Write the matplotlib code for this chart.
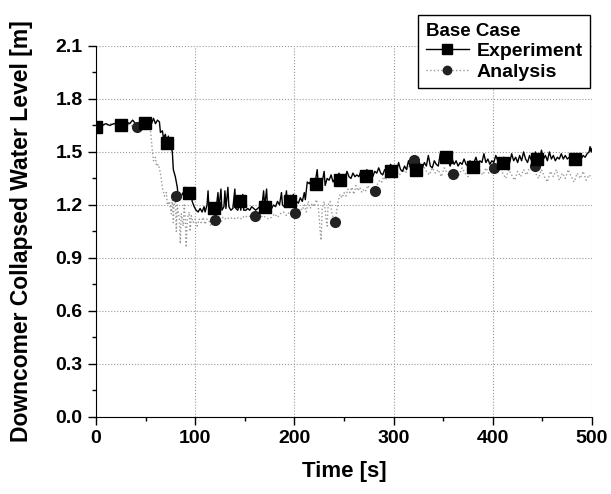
import matplotlib
matplotlib.use("Agg")
import matplotlib.pyplot as plt
from matplotlib.lines import Line2D
from matplotlib.ticker import MultipleLocator

plt.rcParams['font.family'] = ['Liberation Sans', 'DejaVu Sans']
plt.rcParams['font.weight'] = 'bold'

# Experiment (black line)
exp_t = [0, 3, 6, 10, 14, 18, 22, 25, 28, 31, 34, 37, 40, 42, 44, 46, 48, 50, 52, 54,
         56, 58, 60, 62, 64, 65, 67, 68, 70, 71, 72, 73, 74, 75, 77, 78, 79, 80, 81, 82,
         83, 84, 86, 88, 89, 90, 91, 93, 94, 96, 97, 99, 101, 103, 105, 107, 109, 110, 112, 113,
         114, 116, 118, 119, 121, 123, 124, 126, 127, 129, 130, 131, 133, 134, 136, 138, 140, 141, 143, 145,
         146, 148, 149, 151, 153, 155, 157, 159, 161, 163, 165, 167, 169, 170, 172, 173, 175, 177, 179, 181,
         183, 185, 187, 188, 190, 192, 193, 195, 197, 199, 200, 202, 204, 206, 208, 210, 211, 213, 215, 217,
         219, 221, 223, 224, 226, 228, 230, 231, 233, 235, 237, 239, 241, 243, 245, 247, 249, 251, 253, 255,
         257, 259, 261, 263, 265, 267, 269, 271, 273, 275, 277, 279, 281, 283, 285, 287, 289, 291, 293, 295,
         297, 299, 301, 303, 305, 307, 309, 311, 313, 315, 317, 319, 321, 323, 325, 327, 329, 331, 333, 335,
         337, 339, 341, 343, 345, 347, 349, 351, 353, 355, 357, 359, 361, 363, 365, 367, 369, 371, 373, 375,
         377, 379, 381, 383, 385, 387, 389, 391, 393, 395, 397, 399, 401, 403, 405, 407, 409, 411, 413, 415,
         417, 419, 421, 423, 425, 427, 429, 431, 433, 435, 437, 439, 441, 443, 445, 447, 449, 451, 453, 455,
         457, 459, 461, 463, 465, 467, 469, 471, 473, 475, 477, 479, 481, 483, 485, 487, 489, 491, 493, 495,
         497, 498, 499, 500]
exp_v = [1.64, 1.65, 1.65, 1.66, 1.65, 1.66, 1.66, 1.66, 1.66, 1.67, 1.66, 1.68, 1.66, 1.65, 1.67, 1.68, 1.665, 1.67, 1.66, 1.68,
         1.66, 1.69, 1.66, 1.68, 1.67, 1.61, 1.62, 1.58, 1.60, 1.56, 1.55, 1.59, 1.55, 1.54, 1.50, 1.40, 1.38, 1.36, 1.33, 1.30,
         1.24, 1.26, 1.25, 1.27, 1.26, 1.30, 1.25, 1.28, 1.27, 1.29, 1.22, 1.19, 1.17, 1.16, 1.18, 1.16, 1.19, 1.16, 1.20, 1.28,
         1.17, 1.18, 1.17, 1.18, 1.17, 1.27, 1.18, 1.29, 1.17, 1.19, 1.28, 1.18, 1.30, 1.19, 1.17, 1.18, 1.29, 1.18, 1.17, 1.22,
         1.17, 1.26, 1.17, 1.17, 1.18, 1.17, 1.19, 1.18, 1.17, 1.18, 1.19, 1.18, 1.28, 1.19, 1.29, 1.18, 1.21, 1.18, 1.20, 1.19,
         1.22, 1.20, 1.27, 1.20, 1.19, 1.28, 1.20, 1.22, 1.21, 1.26, 1.20, 1.22, 1.21, 1.24, 1.22, 1.27, 1.23, 1.33, 1.32, 1.34,
         1.31, 1.33, 1.40, 1.32, 1.34, 1.33, 1.39, 1.31, 1.35, 1.34, 1.37, 1.33, 1.35, 1.34, 1.38, 1.34, 1.36, 1.35, 1.39, 1.36,
         1.35, 1.38, 1.36, 1.37, 1.36, 1.39, 1.37, 1.36, 1.40, 1.37, 1.38, 1.36, 1.39, 1.38, 1.41, 1.38, 1.37, 1.40, 1.38, 1.39,
         1.43, 1.38, 1.40, 1.39, 1.44, 1.40, 1.39, 1.42, 1.40, 1.45, 1.41, 1.40, 1.43, 1.41, 1.46, 1.42, 1.41, 1.44, 1.42, 1.48,
         1.42, 1.41, 1.45, 1.43, 1.42, 1.49, 1.44, 1.46, 1.47, 1.45, 1.42, 1.46, 1.43, 1.45, 1.42, 1.44, 1.43, 1.46, 1.43, 1.42,
         1.45, 1.42, 1.44, 1.47, 1.43, 1.45, 1.44, 1.49, 1.44, 1.46, 1.43, 1.45, 1.44, 1.48, 1.45, 1.43, 1.44, 1.47, 1.44, 1.46,
         1.44, 1.49, 1.45, 1.47, 1.44, 1.48, 1.45, 1.50, 1.46, 1.44, 1.48, 1.45, 1.47, 1.50, 1.46, 1.45, 1.51, 1.46, 1.48, 1.45,
         1.50, 1.46, 1.48, 1.45, 1.47, 1.46, 1.49, 1.46, 1.48, 1.46, 1.47, 1.46, 1.45, 1.46, 1.45, 1.47, 1.46, 1.48, 1.47, 1.49,
         1.50, 1.53, 1.50, 1.52]

# Analysis (gray dotted line)
ana_t = [0, 5, 10, 15, 20, 25, 30, 35, 40, 45, 50, 53, 55, 57, 58, 60, 61, 63, 65, 67,
         69, 71, 72, 74, 76, 77, 78, 79, 80, 81, 82, 84, 85, 86, 88, 89, 90, 91, 92, 94,
         95, 96, 98, 100, 102, 104, 106, 108, 110, 112, 114, 116, 118, 120, 122, 124, 126, 128, 130, 132,
         135, 138, 141, 144, 147, 150, 153, 156, 159, 162, 165, 168, 171, 174, 177, 180, 183, 186, 189, 192,
         195, 198, 200, 202, 204, 206, 208, 210, 212, 214, 216, 218, 220, 222, 224, 226, 227, 228, 230, 232,
         233, 234, 236, 238, 240, 241, 242, 244, 246, 248, 250, 252, 254, 256, 258, 260, 262, 264, 266, 268,
         270, 272, 274, 276, 278, 280, 282, 284, 286, 288, 290, 292, 294, 296, 298, 300, 303, 306, 309, 312,
         315, 318, 321, 324, 327, 330, 333, 336, 339, 342, 345, 348, 351, 354, 357, 360, 363, 366, 369, 372,
         375, 378, 381, 384, 387, 390, 393, 396, 399, 401, 404, 407, 410, 413, 416, 419, 422, 425, 428, 431,
         434, 437, 440, 443, 446, 449, 452, 455, 458, 461, 464, 467, 470, 473, 476, 479, 482, 485, 488, 491,
         494, 497, 500]
ana_v = [1.64, 1.65, 1.65, 1.66, 1.66, 1.65, 1.66, 1.65, 1.64, 1.65, 1.66, 1.66, 1.62, 1.50, 1.45, 1.47, 1.42, 1.43, 1.38, 1.30,
         1.25, 1.27, 1.20, 1.22, 1.15, 1.24, 1.10, 1.22, 1.25, 1.05, 1.20, 1.12, 0.98, 1.15, 1.08, 1.20, 1.13, 0.96, 1.12, 1.16,
         1.05, 1.14, 1.10, 1.12, 1.08, 1.12, 1.10, 1.13, 1.09, 1.12, 1.11, 1.08, 1.11, 1.115, 1.10, 1.12, 1.10, 1.13, 1.12, 1.13,
         1.12, 1.13, 1.12, 1.13, 1.12, 1.14, 1.13, 1.14, 1.14, 1.13, 1.12, 1.14, 1.13, 1.12, 1.13, 1.15, 1.13, 1.15, 1.16, 1.14,
         1.16, 1.15, 1.155, 1.17, 1.16, 1.18, 1.17, 1.20, 1.16, 1.22, 1.18, 1.21, 1.19, 1.23, 1.20, 1.05, 1.00, 1.18, 1.22, 1.12,
         1.08, 1.20, 1.22, 1.15, 1.11, 1.105, 1.14, 1.22, 1.26, 1.24, 1.27, 1.25, 1.29, 1.27, 1.30, 1.26, 1.31, 1.28, 1.30, 1.27,
         1.29, 1.28, 1.31, 1.29, 1.28, 1.28, 1.30, 1.32, 1.34, 1.33, 1.36, 1.34, 1.37, 1.35, 1.38, 1.36, 1.39, 1.37, 1.40, 1.38,
         1.42, 1.40, 1.45, 1.40, 1.38, 1.42, 1.39, 1.37, 1.41, 1.38, 1.40, 1.36, 1.41, 1.38, 1.36, 1.375, 1.40, 1.37, 1.41, 1.38,
         1.36, 1.40, 1.38, 1.42, 1.39, 1.37, 1.41, 1.38, 1.40, 1.41, 1.39, 1.42, 1.38, 1.35, 1.40, 1.37, 1.34, 1.39, 1.36, 1.40,
         1.37, 1.41, 1.42, 1.38, 1.35, 1.40, 1.36, 1.33, 1.39, 1.36, 1.40, 1.34, 1.38, 1.35, 1.40, 1.36, 1.33, 1.38, 1.35, 1.39,
         1.34, 1.37, 1.35]

# marker positions
exp_mark_t = [0, 25, 49, 72, 94, 119, 145, 170, 196, 222, 246, 272, 297, 323, 353, 380, 410, 445, 483]
exp_mark_v = [1.64, 1.65, 1.665, 1.55, 1.27, 1.18, 1.22, 1.19, 1.22, 1.32, 1.34, 1.365, 1.39, 1.40, 1.47, 1.415, 1.44, 1.46, 1.46]
ana_mark_t = [0, 41, 81, 120, 160, 201, 241, 281, 321, 360, 401, 442]
ana_mark_v = [1.64, 1.64, 1.25, 1.115, 1.14, 1.155, 1.105, 1.28, 1.455, 1.375, 1.41, 1.42]

yticks = [0, 0.3, 0.6, 0.9, 1.2, 1.5, 1.8, 2.1]

fig = plt.figure(figsize=(6.11, 4.94), dpi=100)
ax = fig.add_axes([0.157, 0.156, 0.812, 0.751])

ax.plot(ana_t, ana_v, color='#999999', linestyle=':', linewidth=1.0)
ax.plot(exp_t, exp_v, color='black', linewidth=1.0)
ax.plot(ana_mark_t, ana_mark_v, linestyle='none', marker='o', markersize=7,
        color='#222222')
ax.plot(exp_mark_t, exp_mark_v, linestyle='none', marker='s', markersize=8.5,
        color='black')

ax.set_xlim(0, 500)
ax.set_ylim(0, 2.1)
ax.xaxis.set_major_locator(MultipleLocator(100))
ax.xaxis.set_minor_locator(MultipleLocator(50))
ax.set_yticks(yticks)
ax.set_yticklabels(['%.1f' % v for v in yticks])
ax.yaxis.set_minor_locator(MultipleLocator(0.15))
ax.tick_params(which='major', direction='out', length=6, width=1, labelsize=14)
ax.tick_params(which='minor', direction='out', length=3, width=1)
for lab in ax.get_xticklabels() + ax.get_yticklabels():
    lab.set_fontweight('bold')

ax.grid(True, which='major', color='#999999', linestyle=':', linewidth=0.8)
ax.spines['top'].set_visible(False)
ax.spines['right'].set_visible(False)

ax.set_xlabel('Time [s]', fontsize=16, fontweight='bold', labelpad=10)
ax.set_ylabel('Downcomer Collapsed Water Level [m]', fontsize=16.5, fontweight='bold', labelpad=16)

handles = [
    Line2D([], [], color='black', linewidth=1.0, marker='s', markersize=7),
    Line2D([], [], color='#999999', linestyle=':', linewidth=1.0, marker='o',
           markersize=6, markerfacecolor='#222222', markeredgecolor='#222222'),
]
leg = ax.legend(handles, ['Experiment', 'Analysis'], title='Base Case',
                loc='upper right', bbox_to_anchor=(0.966, 0.97),
                bbox_transform=fig.transFigure, borderaxespad=0,
                fancybox=False, framealpha=1,
                edgecolor='black', prop={'weight': 'bold', 'size': 14},
                handlelength=2.2, handletextpad=0.4, borderpad=0.4,
                labelspacing=0.15)
leg.get_title().set_fontweight('bold')
leg.get_title().set_fontsize(13.5)
leg._legend_box.align = 'left'
leg.get_frame().set_linewidth(1.0)

fig.savefig('out.png', dpi=100)
